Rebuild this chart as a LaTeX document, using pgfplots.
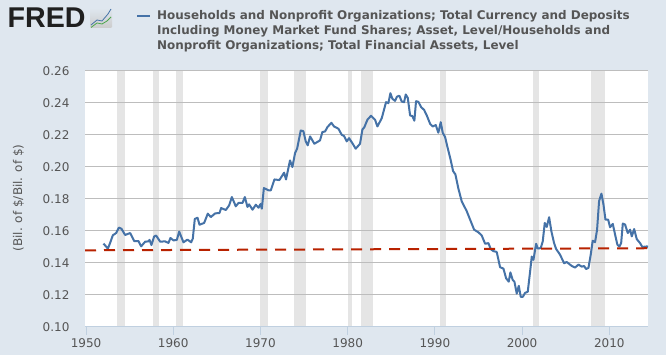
\documentclass[border=0pt]{standalone}
\usepackage{fontspec}
\setmainfont{DejaVu Sans}
\newfontfamily\logofont{Liberation Sans}
\usepackage{xcolor}
\usepackage{pgfplots}
\pgfplotsset{compat=1.18}
\definecolor{bgc}{HTML}{DFE7EF}
\definecolor{gridc}{HTML}{BDBDBD}
\definecolor{recc}{HTML}{E5E5E5}
\definecolor{linec}{HTML}{4572A7}
\definecolor{redc}{HTML}{B82200}
\definecolor{txtc}{HTML}{555555}
\definecolor{axc}{HTML}{C0D0E0}
\pagecolor{bgc}
\begin{document}
\begin{tikzpicture}[x=1pt,y=1pt]
\path (0,0) rectangle (666,355);
% logo
\node[anchor=base west,inner sep=0,text=black!88,font=\logofont\bfseries\fontsize{28.6}{28}\selectfont] at (7.5,327) {FRED};
\shade[top color=bgc,bottom color=black!20,rounded corners=1pt] (90,327) rectangle (112,347);
\draw[green!50!black!70,line width=0.8pt] (91,327.5) -- (97,332) -- (102,331) -- (107,334) -- (111,338);
\draw[linec,line width=0.8pt] (91,330) -- (97,335) -- (102,334) -- (108,341) -- (111,346);
% legend
\draw[linec,line width=2pt] (137,338.5) -- (150,338.5);
\node[anchor=base west,inner sep=0,text=txtc,font=\bfseries\fontsize{11.95}{15}\selectfont,align=left] at (157,335) {Households and Nonprofit Organizations; Total Currency and Deposits};
\node[anchor=base west,inner sep=0,text=txtc,font=\bfseries\fontsize{11.95}{15}\selectfont,align=left] at (157,320) {Including Money Market Fund Shares; Asset, Level/Households and};
\node[anchor=base west,inner sep=0,text=txtc,font=\bfseries\fontsize{11.95}{15}\selectfont,align=left] at (157,305) {Nonprofit Organizations; Total Financial Assets, Level};
\node[rotate=90,anchor=center,inner sep=0,text=txtc,font=\fontsize{12}{14}\selectfont] at (18.5,157) {(Bil. of \$/Bil. of \$)};
\begin{axis}[
  set layers,
  at={(85pt,29pt)}, anchor=south west,
  width=563pt, height=256pt, scale only axis,
  xmin=1949.88, xmax=2014.44, ymin=0.10, ymax=0.26,
  xtick={1950,1960,1970,1980,1990,2000,2010},
  ytick={0.10,0.12,0.14,0.16,0.18,0.20,0.22,0.24,0.26},
  xticklabel style={/pgf/number format/1000 sep={},text=txtc,font=\fontsize{12}{14}\selectfont},
  yticklabel style={/pgf/number format/fixed,/pgf/number format/fixed zerofill,/pgf/number format/precision=2,text=txtc,font=\fontsize{12}{14}\selectfont,yshift=-1pt},
  /pgf/number format/assume math mode=true,
  ymajorgrids, grid style={gridc,line width=0.7pt},
  axis x line*=bottom, axis y line*=left,
  x axis line style={draw=axc,line width=0.8pt,-},
  y axis line style={draw=none,-},
  xtick align=outside, ytick align=inside,
  xtick style={draw=axc,line width=0.8pt},
  ytick style={draw=none},
  major tick length=9pt,
  xticklabel shift=0pt,
  yticklabel shift=12pt,
  axis background/.style={fill=white},
]
\addplot[on layer=axis background,fill=recc,draw=none] coordinates {(1953.55,0.10)(1954.42,0.10)(1954.42,0.26)(1953.55,0.26)} --cycle;
\addplot[on layer=axis background,fill=recc,draw=none] coordinates {(1957.65,0.10)(1958.32,0.10)(1958.32,0.26)(1957.65,0.26)} --cycle;
\addplot[on layer=axis background,fill=recc,draw=none] coordinates {(1960.28,0.10)(1961.12,0.10)(1961.12,0.26)(1960.28,0.26)} --cycle;
\addplot[on layer=axis background,fill=recc,draw=none] coordinates {(1969.92,0.10)(1970.9,0.10)(1970.9,0.26)(1969.92,0.26)} --cycle;
\addplot[on layer=axis background,fill=recc,draw=none] coordinates {(1973.88,0.10)(1975.2,0.10)(1975.2,0.26)(1973.88,0.26)} --cycle;
\addplot[on layer=axis background,fill=recc,draw=none] coordinates {(1980.0,0.10)(1980.52,0.10)(1980.52,0.26)(1980.0,0.26)} --cycle;
\addplot[on layer=axis background,fill=recc,draw=none] coordinates {(1981.52,0.10)(1982.9,0.10)(1982.9,0.26)(1981.52,0.26)} --cycle;
\addplot[on layer=axis background,fill=recc,draw=none] coordinates {(1990.55,0.10)(1991.22,0.10)(1991.22,0.26)(1990.55,0.26)} --cycle;
\addplot[on layer=axis background,fill=recc,draw=none] coordinates {(2001.2,0.10)(2001.9,0.10)(2001.9,0.26)(2001.2,0.26)} --cycle;
\addplot[on layer=axis background,fill=recc,draw=none] coordinates {(2007.92,0.10)(2009.5,0.10)(2009.5,0.26)(2007.92,0.26)} --cycle;
\addplot[linec,line width=2pt,line join=round] table {
1952.00 .1515
1952.50 .1484
1952.76 .1519
1953.07 .1567
1953.45 .1581
1953.76 .1615
1954.06 .1608
1954.48 .1569
1955.06 .1581
1955.52 .1531
1956.01 .1531
1956.32 .1498
1956.78 .1527
1957.16 .1529
1957.28 .1538
1957.50 .1506
1957.81 .1560
1958.04 .1565
1958.50 .1527
1959.07 .1529
1959.45 .1519
1959.68 .1550
1960.03 .1535
1960.41 .1538
1960.68 .1590
1961.17 .1523
1961.63 .1540
1962.05 .1523
1962.24 .1546
1962.47 .1669
1962.78 .1677
1963.01 .1633
1963.54 .1644
1963.96 .1702
1964.31 .1681
1964.81 .1704
1965.30 .1706
1965.49 .1737
1966.03 .1725
1966.41 .1754
1966.72 .1806
1967.17 .1748
1967.48 .1769
1967.94 .1769
1968.21 .1806
1968.51 .1744
1968.70 .1760
1969.09 .1727
1969.47 .1758
1969.78 .1739
1970.00 .1762
1970.16 .1733
1970.39 .1862
1970.93 .1848
1971.19 .1848
1971.60 .1916
1972.17 .1912
1972.71 .1958
1972.93 .1916
1973.39 .2035
1973.66 .1993
1973.97 .2081
1974.20 .2108
1974.62 .2222
1974.92 .2218
1975.19 .2154
1975.42 .2129
1975.69 .2185
1976.18 .2139
1976.83 .2160
1977.10 .2212
1977.41 .2216
1977.68 .2243
1978.13 .2270
1978.44 .2247
1978.94 .2233
1979.32 .2195
1979.59 .2187
1979.89 .2154
1980.16 .2174
1980.58 .2139
1980.92 .2108
1981.42 .2139
1981.69 .2228
1981.92 .2243
1982.26 .2289
1982.68 .2314
1983.14 .2289
1983.41 .2247
1983.91 .2299
1984.40 .2399
1984.67 .2393
1984.90 .2455
1985.13 .2420
1985.43 .2407
1985.66 .2434
1985.93 .2439
1986.20 .2403
1986.47 .2399
1986.66 .2447
1986.89 .2426
1987.16 .2316
1987.42 .2312
1987.65 .2283
1987.84 .2405
1988.11 .2401
1988.42 .2368
1988.76 .2351
1989.07 .2316
1989.45 .2264
1989.75 .2247
1990.10 .2256
1990.40 .2208
1990.67 .2274
1990.90 .2208
1991.17 .2181
1991.47 .2112
1991.78 .2045
1992.09 .1968
1992.35 .1948
1992.70 .1858
1993.08 .1779
1993.65 .1718
1994.04 .1665
1994.50 .1602
1995.00 .1585
1995.37 .1566
1995.76 .1514
1996.14 .1518
1996.41 .1480
1996.71 .1468
1997.09 .1463
1997.48 .1367
1997.86 .1359
1998.17 .1298
1998.47 .1277
1998.66 .1335
1998.93 .1287
1999.12 .1277
1999.39 .1203
1999.62 .1251
1999.85 .1182
2000.08 .1182
2000.34 .1207
2000.65 .1214
2000.92 .1340
2001.11 .1434
2001.30 .1413
2001.61 .1514
2001.80 .1484
2002.14 .1487
2002.37 .1529
2002.60 .1644
2002.83 .1619
2003.10 .1680
2003.36 .1592
2003.67 .1518
2003.90 .1482
2004.36 .1445
2004.82 .1392
2005.12 .1400
2005.70 .1375
2006.08 .1365
2006.46 .1384
2006.84 .1371
2007.11 .1375
2007.34 .1356
2007.61 .1363
2007.87 .1445
2008.10 .1533
2008.37 .1524
2008.60 .1602
2008.83 .1781
2009.10 .1827
2009.33 .1760
2009.56 .1665
2009.87 .1665
2010.09 .1617
2010.40 .1638
2010.71 .1560
2010.93 .1508
2011.16 .1497
2011.36 .1518
2011.55 .1640
2011.81 .1634
2012.12 .1581
2012.39 .1602
2012.58 .1560
2012.85 .1606
2013.15 .1543
2013.53 .1518
2013.80 .1493
2014.11 .1497
2014.26 .1487
2014.38 .1503
};
\addplot[redc,line width=2pt,dash pattern=on 11pt off 8pt] coordinates {(1949.88,0.1473)(2014.44,0.1486)};
\end{axis}
\end{tikzpicture}
\end{document}
